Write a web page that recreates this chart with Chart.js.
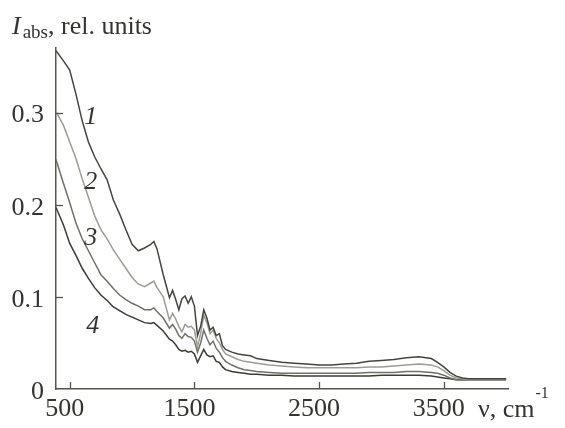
<!DOCTYPE html>
<html>
<head>
<meta charset="utf-8">
<script src="https://cdn.jsdelivr.net/npm/chart.js@4.4.0/dist/chart.umd.min.js"></script>
<style>
	html, body {margin: 0; padding: 0; background: #fff;}
</style>
</head>
<body>
<canvas id="myChart" width="565" height="428"></canvas>
<script>
// wavenumber, cm^-1
const wavenumber = [390, 450, 500, 550, 600, 650, 700, 750, 800, 850,
	900, 950, 1000, 1050, 1100, 1150, 1175, 1200, 1250, 1300,
	1325, 1350, 1375, 1400, 1425, 1450, 1475, 1500, 1525, 1550,
	1575, 1600, 1625, 1650, 1675, 1700, 1725, 1750, 1800, 1850,
	1900, 1950, 2000, 2100, 2200, 2300, 2400, 2500, 2600, 2700,
	2800, 2900, 3000, 3100, 3200, 3300, 3400, 3450, 3500, 3550,
	3600, 3650, 3700, 3800, 3900, 4000];

// absorption, rel. units
const curve1 = [0.367, 0.356, 0.346, 0.320, 0.291, 0.268, 0.252, 0.239, 0.227, 0.205,
	0.190, 0.173, 0.157, 0.150, 0.153, 0.157, 0.160, 0.152, 0.124, 0.099,
	0.107, 0.097, 0.086, 0.098, 0.101, 0.093, 0.100, 0.090, 0.058, 0.068,
	0.086, 0.077, 0.064, 0.067, 0.058, 0.060, 0.047, 0.043, 0.040, 0.038,
	0.037, 0.036, 0.033, 0.031, 0.029, 0.028, 0.027, 0.026, 0.026, 0.027,
	0.028, 0.030, 0.031, 0.032, 0.034, 0.035, 0.033, 0.029, 0.024, 0.018,
	0.014, 0.012, 0.011, 0.011, 0.011, 0.011];
const curve2 = [0.301, 0.286, 0.268, 0.250, 0.228, 0.208, 0.188, 0.173, 0.163, 0.151,
	0.141, 0.131, 0.121, 0.114, 0.111, 0.115, 0.117, 0.110, 0.100, 0.075,
	0.082, 0.076, 0.068, 0.062, 0.070, 0.067, 0.068, 0.064, 0.046, 0.060,
	0.080, 0.072, 0.060, 0.064, 0.055, 0.050, 0.043, 0.038, 0.035, 0.032,
	0.030, 0.029, 0.028, 0.026, 0.025, 0.024, 0.023, 0.023, 0.023, 0.023,
	0.023, 0.024, 0.024, 0.025, 0.026, 0.027, 0.026, 0.024, 0.020, 0.015,
	0.012, 0.011, 0.010, 0.010, 0.010, 0.010];
const curve3 = [0.249, 0.223, 0.202, 0.180, 0.163, 0.150, 0.137, 0.124, 0.117, 0.109,
	0.102, 0.097, 0.093, 0.090, 0.086, 0.086, 0.088, 0.084, 0.077, 0.066,
	0.070, 0.065, 0.058, 0.055, 0.060, 0.057, 0.056, 0.052, 0.040, 0.050,
	0.064, 0.055, 0.048, 0.052, 0.044, 0.040, 0.034, 0.030, 0.026, 0.023,
	0.021, 0.020, 0.019, 0.018, 0.017, 0.017, 0.017, 0.017, 0.017, 0.017,
	0.017, 0.018, 0.018, 0.018, 0.019, 0.019, 0.018, 0.017, 0.015, 0.012,
	0.010, 0.010, 0.010, 0.010, 0.010, 0.010];
const curve4 = [0.197, 0.178, 0.158, 0.145, 0.131, 0.120, 0.110, 0.102, 0.096, 0.089,
	0.085, 0.081, 0.078, 0.075, 0.072, 0.071, 0.072, 0.069, 0.063, 0.054,
	0.052, 0.048, 0.043, 0.041, 0.042, 0.040, 0.041, 0.038, 0.029, 0.036,
	0.043, 0.037, 0.035, 0.036, 0.030, 0.029, 0.024, 0.021, 0.019, 0.018,
	0.017, 0.016, 0.016, 0.015, 0.015, 0.014, 0.014, 0.014, 0.014, 0.014,
	0.014, 0.014, 0.015, 0.015, 0.015, 0.015, 0.014, 0.013, 0.012, 0.011,
	0.010, 0.010, 0.010, 0.010, 0.010, 0.010];

const curveNames = ["1", "2", "3", "4"];
const labelX = [669, 669, 669, 685];
const labelY = [0.295, 0.224, 0.164, 0.068];

const xTicks = [500, 1500, 2500, 3500];
const yTicks = [0, 0.1, 0.2, 0.3];

const axisColor = "#55554d";
const textColor = "#333330";
const serif = '"Liberation Serif", "DejaVu Serif", serif';

const curves = [curve1, curve2, curve3, curve4];
const lineColors = ["#45453f", "#9c9c94", "#707068", "#3c3c36"];

// inward ticks, curve numbers and axis titles
const decorations = {
	id: "decorations",
	afterDraw(chart) {
		const {ctx, chartArea: a} = chart;
		const x = chart.scales.x, y = chart.scales.y;
		ctx.save();
		ctx.strokeStyle = axisColor;
		ctx.lineWidth = 1.3;
		xTicks.forEach(v => {
			const px = Math.round(x.getPixelForValue(v)) + 0.5;
			ctx.beginPath(); ctx.moveTo(px, a.bottom); ctx.lineTo(px, a.bottom - 7); ctx.stroke();
		});
		yTicks.filter(v => v > 0).forEach(v => {
			const py = Math.round(y.getPixelForValue(v)) + 0.5;
			ctx.beginPath(); ctx.moveTo(a.left, py); ctx.lineTo(a.left + 7, py); ctx.stroke();
		});

		ctx.fillStyle = textColor;
		ctx.textAlign = "center";
		ctx.textBaseline = "middle";
		ctx.font = "italic 26px " + serif;
		curveNames.forEach((n, i) => {
			ctx.fillText(n, x.getPixelForValue(labelX[i]), y.getPixelForValue(labelY[i]));
		});

		// y title: I_abs, rel. units
		ctx.textAlign = "left";
		ctx.textBaseline = "alphabetic";
		let cx = 12;
		ctx.font = "italic 26px " + serif;
		ctx.fillText("I", cx, 34); cx += ctx.measureText("I").width + 2;
		ctx.font = "19px " + serif;
		ctx.fillText("abs", cx, 38); cx += ctx.measureText("abs").width;
		ctx.font = "26px " + serif;
		ctx.fillText(", rel. units", cx, 34);

		// x title: ν, cm^-1
		cx = 478;
		ctx.fillText("ν, cm", cx, 417); cx += ctx.measureText("ν, cm").width + 1;
		ctx.font = "16px " + serif;
		ctx.fillText("-1", cx, 398);
		ctx.restore();
	}
};

new Chart(document.getElementById("myChart").getContext("2d"), {
	type: "line",
	data: {
		datasets: curves.map((c, i) => ({
			data: wavenumber.map((w, k) => ({x: w, y: c[k]})),
			borderColor: lineColors[i],
			borderWidth: 1.5,
			pointRadius: 0,
			tension: 0,
			fill: false
		}))
	},
	options: {
		responsive: false,
		animation: false,
		events: [],
		layout: {padding: {top: 48, right: 57, left: 0, bottom: 0}},
		plugins: {legend: {display: false}, tooltip: {enabled: false}},
		scales: {
			x: {
				type: "linear",
				min: 390,
				max: 4015,
				afterFit: s => { s.height = 39; },
				afterBuildTicks: s => { s.ticks = xTicks.map(v => ({value: v})); },
				grid: {drawOnChartArea: false, drawTicks: false},
				border: {display: true, color: axisColor, width: 1.5},
				ticks: {
					padding: 5,
					labelOffset: -5,
					color: textColor,
					maxRotation: 0,
					font: {family: serif, size: 26},
					callback: v => String(v)
				}
			},
			y: {
				min: 0,
				max: 0.37,
				afterFit: s => { s.width = 56; },
				afterBuildTicks: s => { s.ticks = yTicks.map(v => ({value: v})); },
				grid: {drawOnChartArea: false, drawTicks: false},
				border: {display: true, color: axisColor, width: 1.5},
				ticks: {
					padding: 12,
					labelOffset: 3,
					color: textColor,
					font: {family: serif, size: 26},
					callback: v => (v === 0 ? "0" : v.toFixed(1))
				}
			}
		}
	},
	plugins: [decorations]
});
</script>
</body>
</html>
